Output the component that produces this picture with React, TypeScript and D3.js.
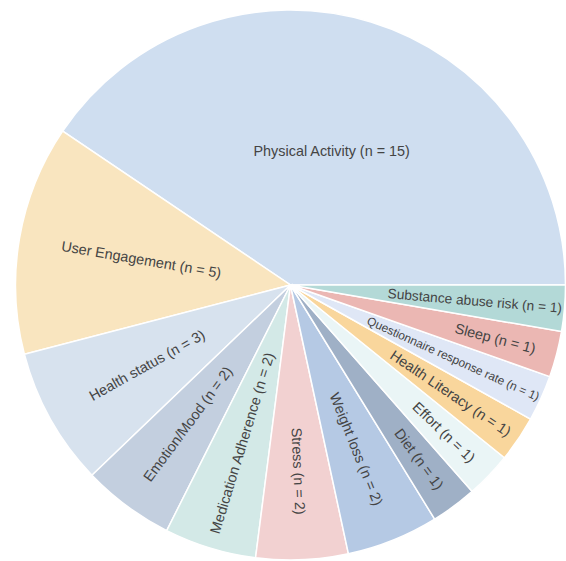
import React from "react";
import * as d3 from "d3";

const categories = [
  "Physical Activity",
  "User Engagement",
  "Health status",
  "Emotion/Mood",
  "Medication Adherence",
  "Stress",
  "Weight loss",
  "Diet",
  "Effort",
  "Health Literacy",
  "Questionnaire response rate",
  "Sleep",
  "Substance abuse risk",
];
const counts = [15, 5, 3, 2, 2, 2, 2, 1, 1, 1, 1, 1, 1];
const colors = [
  "#cfdef0",
  "#f9e5bf",
  "#d7e2ee",
  "#c3cfdf",
  "#d3e9e7",
  "#f2d1d1",
  "#b5c9e4",
  "#9fb0c6",
  "#eaf5f6",
  "#f9d69c",
  "#dfe7f6",
  "#ebb7b3",
  "#b3d9d7",
];

const W = 566;
const H = 561;
const CX = 290.5;
const CY = 285;
const R = 275;
const FONT = 14.4;
const FAMILY = "'Liberation Sans', Arial, Helvetica, sans-serif";
const TEXTPAD = 3.6;

let ctx: CanvasRenderingContext2D | null = null;
function measure(t: string): number {
  if (!ctx) {
    const c = document.createElement("canvas");
    ctx = c.getContext("2d");
  }
  if (!ctx) return t.length * FONT * 0.5;
  ctx.font = `${FONT}px ${FAMILY}`;
  return ctx.measureText(t).width;
}

function maxHalfSize(a: number, half: number, r: number, ring: number) {
  const q = a + 1 / (2 * Math.tan(half));
  return r * Math.min(1 / (Math.sqrt(q * q + 0.5) + q), ring / (Math.sqrt(a * a + ring / 2) + a));
}

function normRot(deg: number) {
  let d = deg;
  while (d > 90) d -= 180;
  while (d <= -90) d += 180;
  return d;
}

export default function App() {
  const total = d3.sum(counts);
  const pie = d3
    .pie<number>()
    .sort(null)
    .value((d) => d)
    .startAngle(Math.PI / 2)
    .endAngle(Math.PI / 2 - 2 * Math.PI);
  const arcs = pie(counts);
  const arcGen = d3.arc<d3.PieArcDatum<number>>().innerRadius(0).outerRadius(R);

  return (
    <svg
      width={W}
      height={H}
      style={{ position: "absolute", left: 0, top: 0, background: "#fff" }}
    >
      <g transform={`translate(${CX},${CY})`}>
        {arcs.map((a, i) => (
          <path key={i} d={arcGen(a) || ""} fill={colors[i]} stroke="#fff" strokeWidth={1.5} />
        ))}
        {arcs.map((a, i) => {
          const label = `${categories[i]} (n = ${counts[i]})`;
          const w = measure(label);
          const h = FONT * 1.15;
          const mid = (a.startAngle + a.endAngle) / 2;
          const half = (Math.PI * counts[i]) / total;
          const ux = Math.sin(mid);
          const uy = -Math.cos(mid);
          const radDeg = (Math.atan2(uy, ux) * 180) / Math.PI;
          const rr = R - 2 * TEXTPAD;
          // horizontal
          const rIns = Math.min(1 / (1 + 1 / Math.sin(half)), 0.5);
          const diam = Math.sqrt(w * w + h * h);
          let best = { scale: (rIns * R * 2) / diam, rCenter: 1 - rIns, rotate: 0 };
          if (best.scale < 1) {
            const ar = w / h;
            const sr = maxHalfSize(ar, half, rr, 1);
            const radial = {
              scale: (sr * 2) / h,
              rCenter: Math.cos(sr / rr) - ar * (sr / rr),
              rotate: normRot(radDeg),
            };
            const at = h / w;
            const st = maxHalfSize(at, half, rr, 1);
            const tang = {
              scale: (st * 2) / w,
              rCenter: Math.cos(st / rr) - at * (st / rr),
              rotate: normRot(radDeg + 90),
            };
            for (const t of [radial, tang]) if (t.scale > best.scale) best = t;
          }
          const scale = Math.min(1, best.scale);
          const tx = ux * R * best.rCenter;
          const ty = uy * R * best.rCenter;
          return (
            <text
              key={"t" + i}
              transform={`translate(${tx},${ty}) rotate(${best.rotate}) scale(${scale})`}
              textAnchor="middle"
              dy="0.35em"
              fontFamily={FAMILY}
              fontSize={FONT}
              fill="#444"
            >
              {label}
            </text>
          );
        })}
      </g>
    </svg>
  );
}
